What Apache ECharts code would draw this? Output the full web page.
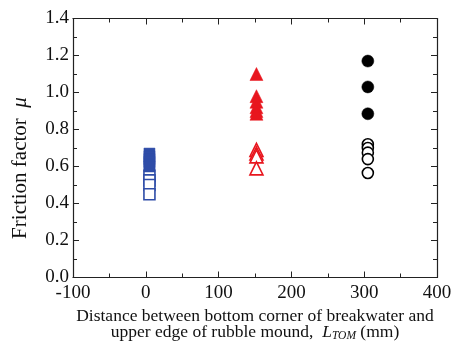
<!DOCTYPE html>
<html><head><meta charset="utf-8">
<script src="https://cdn.jsdelivr.net/npm/echarts@6/dist/echarts.min.js"></script>
<style>html,body{margin:0;padding:0;background:#fff}#c{width:468px;height:350px}</style>
</head><body><div id="c"></div>
<script>
var xTicks = [-100, 0, 100, 200, 300, 400];
var yTicks = [0.0, 0.2, 0.4, 0.6, 0.8, 1.0, 1.2, 1.4];
var blueX = 5, redX = 152, blackX = 305;
var blueFilled = [0.67, 0.655, 0.64, 0.625, 0.61, 0.60];
var blueOpen = [0.55, 0.525, 0.50, 0.45];
var redFilled = [1.10, 0.98, 0.95, 0.92, 0.90, 0.885];
var redOpen = [0.69, 0.67, 0.655, 0.59];
var blackFilled = [1.17, 1.03, 0.885];
var blackOpen = [0.72, 0.70, 0.675, 0.64, 0.565];

var FONT = 'Liberation Serif';
function pts(x, arr) { return arr.map(function (v) { return [x, v]; }); }
function sc(data, symbol, size, color, filled) {
  return {
    type: 'scatter', data: data, symbol: symbol, symbolSize: size,
    itemStyle: filled ? { color: color, borderColor: color, borderWidth: 0.5, opacity: 1 }
                      : { color: '#fff', borderColor: color, borderWidth: 1.6, opacity: 1 },
    emphasis: { disabled: true }, animation: false
  };
}
var axLine = { show: true, onZero: false, lineStyle: { color: '#222', width: 1.2 } };
var tick = { inside: true, length: 6, lineStyle: { color: '#222' } };
var minor = { show: true, splitNumber: 2, length: 4, lineStyle: { color: '#222' } };
var chart = echarts.init(document.getElementById('c'), null, { renderer: 'canvas' });
chart.setOption({
  backgroundColor: '#fff',
  animation: false,
  grid: { left: 73, right: 31, top: 18.5, bottom: 72.5 },
  xAxis: [{
    type: 'value', min: xTicks[0], max: xTicks[xTicks.length - 1], interval: 100,
    axisLine: axLine, splitLine: { show: false }, axisTick: tick, minorTick: minor,
    axisLabel: { color: '#111', fontFamily: FONT, fontSize: 19, margin: 6 },
    name: '{n|Distance between bottom corner of breakwater and}\n{n|upper edge of rubble mound,  }{i|L}{s|TOM}{n| (mm)}',
    nameLocation: 'middle', nameGap: 25,
    nameTextStyle: {
      color: '#111', fontFamily: FONT, fontSize: 17.5, lineHeight: 16,
      rich: {
        n: { fontFamily: FONT, fontSize: 17.5, color: '#111', lineHeight: 16 },
        i: { fontFamily: FONT, fontSize: 17.5, color: '#111', fontStyle: 'italic', lineHeight: 16 },
        s: { fontFamily: FONT, fontSize: 11.5, color: '#111', fontStyle: 'italic', padding: [7, 0, 0, 0], lineHeight: 16 }
      }
    }
  }, {
    type: 'value', position: 'top', min: xTicks[0], max: xTicks[xTicks.length - 1], interval: 100,
    axisLine: axLine, splitLine: { show: false }, axisLabel: { show: false },
    axisTick: tick, minorTick: minor
  }],
  yAxis: [{
    type: 'value', min: yTicks[0], max: yTicks[yTicks.length - 1], interval: 0.2,
    axisLine: axLine, splitLine: { show: false }, axisTick: tick, minorTick: minor,
    axisLabel: { color: '#111', fontFamily: FONT, fontSize: 19, margin: 4,
      formatter: function (v) { return v.toFixed(1); } },
    name: '{n|Friction factor  }{i|μ}',
    nameLocation: 'middle', nameGap: 42, nameRotate: 90,
    nameTextStyle: {
      color: '#111', fontFamily: FONT, fontSize: 21, padding: [0, 40, 0, 0],
      rich: {
        n: { fontFamily: FONT, fontSize: 21, color: '#111' },
        i: { fontFamily: FONT, fontSize: 21, color: '#111', fontStyle: 'italic' }
      }
    }
  }, {
    type: 'value', position: 'right', min: yTicks[0], max: yTicks[yTicks.length - 1], interval: 0.2,
    axisLine: axLine, splitLine: { show: false }, axisLabel: { show: false },
    axisTick: tick, minorTick: minor
  }],
  series: [
    sc(pts(blueX, blueOpen), 'rect', 11, '#2f4da8', false),
    sc(pts(blueX, blueFilled), 'rect', 11, '#2f4da8', true),
    sc(pts(redX, redOpen), 'triangle', 13, '#e8161e', false),
    sc(pts(redX, redFilled), 'triangle', 13, '#e8161e', true),
    sc(pts(blackX, blackOpen), 'circle', 11, '#000', false),
    sc(pts(blackX, blackFilled), 'circle', 12, '#000', true)
  ]
});
</script></body></html>
